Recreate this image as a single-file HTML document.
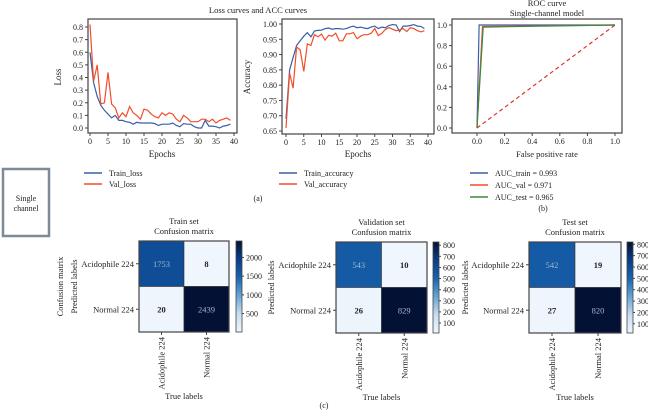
<!DOCTYPE html>
<html><head><meta charset="utf-8"><style>
body{margin:0;background:#fff;}
svg{display:block;font-family:"Liberation Serif",serif;}
text{fill:#222;}
</style></head><body>
<svg id="s" width="648" height="415" viewBox="0 0 648 415" xmlns="http://www.w3.org/2000/svg"></svg>
<script>
const epochs = Array.from({length:40},(_,i)=>i);
const trainLoss=[0.60,0.36,0.25,0.18,0.14,0.11,0.08,0.10,0.06,0.06,0.05,0.045,0.03,0.045,0.04,0.04,0.04,0.04,0.035,0.02,0.03,0.03,0.03,0.04,0.02,0.01,0.035,0.03,0.03,0.01,0.0,0.0,0.06,0.015,0.015,0.01,0.0,0.015,0.02,0.03];
const valLoss=[0.82,0.37,0.50,0.19,0.20,0.44,0.19,0.16,0.08,0.12,0.09,0.17,0.12,0.10,0.07,0.15,0.14,0.11,0.09,0.08,0.12,0.10,0.12,0.11,0.07,0.05,0.10,0.08,0.05,0.05,0.05,0.07,0.07,0.05,0.07,0.04,0.06,0.07,0.08,0.06];
const trainAcc=[0.69,0.85,0.89,0.93,0.945,0.96,0.972,0.958,0.977,0.979,0.98,0.985,0.987,0.983,0.985,0.985,0.983,0.985,0.99,0.993,0.988,0.99,0.987,0.985,0.99,0.993,0.985,0.99,0.988,0.995,0.998,0.997,0.975,0.993,0.993,0.995,0.998,0.993,0.992,0.985];
const valAcc=[0.66,0.84,0.79,0.925,0.915,0.845,0.935,0.93,0.965,0.958,0.967,0.947,0.963,0.96,0.97,0.945,0.945,0.968,0.968,0.972,0.952,0.96,0.965,0.965,0.97,0.985,0.962,0.97,0.982,0.988,0.983,0.978,0.98,0.985,0.975,0.988,0.985,0.978,0.974,0.978];
const rocTrainX=[0,0.015,1], rocTrainY=[0,1,1];
const rocValX=[0,0.04,1], rocValY=[0,0.985,1];
const rocTestX=[0,0.045,1], rocTestY=[0,0.98,1];
const aucLabels=["AUC_train = 0.993","AUC_val = 0.971","AUC_test = 0.965"];
const cmTrain=[[1753,8],[20,2439]];
const cmVal=[[543,10],[26,829]];
const cmTest=[[542,19],[27,820]];
const classes=["Acidophile 224","Normal 224"];

const S=document.getElementById('s');
const NS="http://www.w3.org/2000/svg";
function el(tag,attrs,parent,txt){const e=document.createElementNS(NS,tag);for(const k in attrs)e.setAttribute(k,attrs[k]);if(txt!==undefined)e.textContent=txt;(parent||S).appendChild(e);return e;}
function txt(x,y,s,o,name){o=o||{};const e=el('text',{x:x,y:y,'font-size':o.fs||8.5,'text-anchor':o.a||'middle'},o.p,s);if(o.rot)e.setAttribute('transform',`rotate(${o.rot} ${x} ${y})`);

return e;}
function lin(d0,d1,r0,r1){return v=>r0+(v-d0)/(d1-d0)*(r1-r0);}
function poly(xs,ys,fx,fy,color,name,g,dash){const p=xs.map((x,i)=>fx(x).toFixed(1)+','+fy(ys[i]).toFixed(1)).join(' ');
const e=el('polyline',{points:p,fill:'none',stroke:color,'stroke-width':1.2},g);if(dash)e.setAttribute('stroke-dasharray',dash);

}
function axesBox(x0,y0,x1,y1,g){const r=el('rect',{x:x0,y:y0,width:x1-x0,height:y1-y0,fill:'none',stroke:'#444','stroke-width':1.2},g);

}
function xticks(vals,fx,yb,labels,g){vals.forEach((v,i)=>{el('line',{x1:fx(v),x2:fx(v),y1:yb,y2:yb+3,stroke:'#444'},g);txt(fx(v),yb+11,labels[i],{p:g,fs:8},'x-tick-label');});}
function yticks(vals,fy,xl,labels,g){vals.forEach((v,i)=>{el('line',{x1:xl-3,x2:xl,y1:fy(v),y2:fy(v),stroke:'#444'},g);txt(xl-5,fy(v)+3,labels[i],{p:g,a:'end',fs:8},'y-tick-label');});}
function legend(items,x,y,dy,g){items.forEach((it,i)=>{el('line',{x1:x,x2:x+18,y1:y+i*dy,y2:y+i*dy,stroke:it[1],'stroke-width':1.5},g);txt(x+25,y+i*dy+3,it[0],{p:g,a:'start',fs:8},'legend-entry');});}
const BLUE='#3a5fa8',RED='#f04e2a',GREEN='#3c8a3c';

// Loss chart
let g=el('g',{});
let fx=lin(0,40,90,234), fy=lin(0,0.8,128,27);
axesBox(88,19,237,133,g);
xticks([0,5,10,15,20,25,30,35,40],fx,133,["0","5","10","15","20","25","30","35","40"],g);
yticks([0,0.1,0.2,0.3,0.4,0.5,0.6,0.7,0.8],fy,88,["0.0","0.1","0.2","0.3","0.4","0.5","0.6","0.7","0.8"],g);
poly(epochs,trainLoss,fx,fy,BLUE,'train-loss-line',g);
poly(epochs,valLoss,fx,fy,RED,'val-loss-line',g);
txt(162,157,"Epochs",{p:g,fs:9},'x-axis-title');
txt(61,77,"Loss",{p:g,fs:9,rot:-90},'y-axis-title');
legend([["Train_loss",BLUE],["Val_loss",RED]],84,173,11,g);

// Accuracy chart
g=el('g',{});
fx=lin(0,40,286,428); fy=lin(0.65,1.0,131,24);
axesBox(282,19,434,134,g);
xticks([0,5,10,15,20,25,30,35,40],fx,134,["0","5","10","15","20","25","30","35","40"],g);
yticks([0.65,0.7,0.75,0.8,0.85,0.9,0.95,1.0],fy,282,["0.65","0.70","0.75","0.80","0.85","0.90","0.95","1.00"],g);
poly(epochs,trainAcc,fx,fy,BLUE,'train-accuracy-line',g);
poly(epochs,valAcc,fx,fy,RED,'val-accuracy-line',g);
txt(358,157,"Epochs",{p:g,fs:9},'x-axis-title');
txt(250,77,"Accuracy",{p:g,fs:9,rot:-90},'y-axis-title');
legend([["Train_accuracy",BLUE],["Val_accuracy",RED]],279,173,11,g);
txt(258,13,"Loss curves and ACC curves",{fs:8.5},'chart-title');
txt(258,201,"(a)",{fs:8},'panel-label-a');

// ROC
g=el('g',{});
fx=lin(0,1,477,615); fy=lin(0,1,128,25);
axesBox(452,19,622,133,g);
xticks([0,0.2,0.4,0.6,0.8,1],fx,133,["0.0","0.2","0.4","0.6","0.8","1.0"],g);
yticks([0,0.2,0.4,0.6,0.8,1],fy,452,["0.0","0.2","0.4","0.6","0.8","1.0"],g);
poly([0,1],[0,1],fx,fy,'#d9332a','chance-line',g,'4,3');
poly(rocTrainX,rocTrainY,fx,fy,BLUE,'roc-train-line',g);
poly(rocValX,rocValY,fx,fy,RED,'roc-val-line',g);
poly(rocTestX,rocTestY,fx,fy,GREEN,'roc-test-line',g);
txt(547,6,"ROC curve",{p:g,fs:8.5},'chart-title');
txt(547,16,"Single-channel model",{p:g,fs:8.5},'chart-subtitle');
txt(547,157,"False positive rate",{p:g,fs:8.5},'x-axis-title');
legend([[aucLabels[0],BLUE],[aucLabels[1],RED],[aucLabels[2],GREEN]],470,173,12,g);
txt(543,211,"(b)",{fs:8},'panel-label-b');

// Single channel box
let r=el('rect',{x:3,y:169,width:46,height:67,fill:'#fff',stroke:'#7d8b99','stroke-width':2.5});

txt(26,201,"Single",{fs:8},'single-channel-label');
txt(26,211,"channel",{fs:8},'single-channel-label');

// Confusion matrices
function cmColor(v,mn,mx){const t=(v-mn)/(mx-mn);
const stops=[[240,246,253],[200,221,240],[100,165,212],[25,100,175],[8,62,135],[3,18,52]];
const p=Math.min(0.9999,Math.max(0,t))*(stops.length-1),i=Math.floor(p),f=p-i;
const c=stops[i].map((a,k)=>Math.round(a+(stops[i+1][k]-a)*f));return `rgb(${c})`;}
function cm(data,x0,y0,x1,y1,cbx,title,ticks,name,ylabX,extra){
 const g=el('g',{});
 const flat=data.flat(),mn=Math.min(...flat),mx=Math.max(...flat);
 const w=(x1-x0)/2,h=(y1-y0)/2;
 data.forEach((row,i)=>row.forEach((v,j)=>{
  const c=el('rect',{x:x0+j*w,y:y0+i*h,width:w,height:h,fill:cmColor(v,mn,mx),stroke:'#333','stroke-width':0.6},g);
  
  const t=txt(x0+j*w+w/2,y0+i*h+h/2+3,String(v),{p:g,fs:8.5},'cm-value');
  if((v-mn)/(mx-mn)>0.5){t.style.fill='#9fb6d6';}else t.style.fontWeight='bold';
 }));
 axesBox(x0,y0,x1,y1,g);
 const def=el('defs',{},g);const lg=el('linearGradient',{id:name+'-grad',x1:0,y1:1,x2:0,y2:0},def);
 for(let k=0;k<=10;k++)el('stop',{offset:k/10,'stop-color':cmColor(mn+(mx-mn)*k/10,mn,mx)},lg);
 const cb=el('rect',{x:cbx,y:y0,width:6,height:y1-y0,fill:`url(#${name}-grad)`,stroke:'#444','stroke-width':0.8},g);
 
 const fy=lin(mn,mx,y1,y0);
 ticks.forEach(v=>{el('line',{x1:cbx+6,x2:cbx+8,y1:fy(v),y2:fy(v),stroke:'#444'},g);txt(cbx+10,fy(v)+3,String(v),{p:g,a:'start',fs:8},'colorbar-tick');});
 const cx=(x0+x1)/2;
 txt(cx,y0-17,title,{p:g,fs:8.5},'cm-title');
 txt(cx,y0-7,"Confusion matrix",{p:g,fs:8.5},'cm-subtitle');
 classes.forEach((c,i)=>{
  el('line',{x1:x0-3,x2:x0,y1:y0+i*h+h/2,y2:y0+i*h+h/2,stroke:'#444'},g);
  txt(x0-5,y0+i*h+h/2+3,c,{p:g,a:'end',fs:8.5},'y-tick-label');
  const tx=x0+i*w+w/2;
  el('line',{x1:tx,x2:tx,y1:y1,y2:y1+3,stroke:'#444'},g);
  txt(tx+3,y1+5,c,{p:g,a:'end',fs:8.5,rot:-90},'x-tick-label');
 });
 txt(cx,y1+67,"True labels",{p:g,fs:8.5},'x-axis-title');
 txt(ylabX,(y0+y1)/2,"Predicted labels",{p:g,fs:8.5,rot:-90},'y-axis-title');
 if(extra)txt(extra,(y0+y1)/2,"Confusion matrix",{p:g,fs:8.5,rot:-90},'row-label');
}
cm(cmTrain,139,241,229,332,236,"Train set",[500,1000,1500,2000],'cm-train',77,63);
cm(cmVal,336,242,427,333,433,"Validation set",[100,200,300,400,500,600,700,800],'cm-val',274);
cm(cmTest,529,242,621,333,627,"Test set",[100,200,300,400,500,600,700,800],'cm-test',468);
txt(324,408,"(c)",{fs:8},'panel-label-c');
</script>
</body></html>
